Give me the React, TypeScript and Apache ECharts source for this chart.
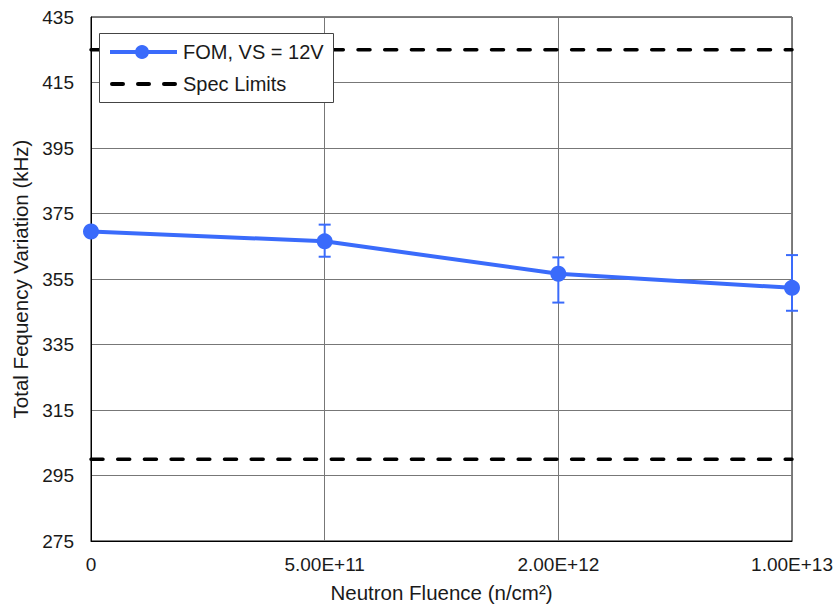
import React, { useEffect, useRef } from "react";
import * as echarts from "echarts";

const categories = ["0", "5.00E+11", "2.00E+12", "1.00E+13"];
const fomValues = [369.5, 366.5, 356.6, 352.3];
const errLow = [369.5, 361.8, 347.8, 345.3];
const errHigh = [369.5, 371.6, 361.6, 362.3];
const specUpper = [425, 425, 425, 425];
const specLower = [300, 300, 300, 300];
const legendNames = ["FOM, VS = 12V", "Spec Limits"];
const yMin = 275;
const yMax = 435;
const yInterval = 20;

const BLUE = "#3a6bfb";
const FONT = "Liberation Sans, Arial, sans-serif";
const TXT = "#1a1a1a";
const DASH = [12, 14.7];

export default function App() {
  const ref = useRef<HTMLDivElement>(null);
  useEffect(() => {
    if (!ref.current) return;
    const chart = echarts.init(ref.current, undefined, { renderer: "svg" });
    const errData = categories.map((_, i) => [i, errLow[i], errHigh[i]]);
    chart.setOption({
      animation: false,
      backgroundColor: "#ffffff",
      textStyle: { fontFamily: FONT },
      grid: {
        left: 91,
        right: 46,
        top: 17,
        bottom: 67,
        show: true,
        borderColor: "#000",
        borderWidth: 1,
        backgroundColor: "transparent",
      },
      graphic: [
        {
          type: "rect",
          z: 100,
          shape: { x: 99.5, y: 33.5, width: 234, height: 69 },
          style: { fill: "#ffffff", stroke: "#444", lineWidth: 1 },
        },
        {
          type: "line",
          z: 101,
          shape: { x1: 110, y1: 52, x2: 177, y2: 52 },
          style: { stroke: BLUE, lineWidth: 4 },
        },
        {
          type: "circle",
          z: 102,
          shape: { cx: 142, cy: 52, r: 7 },
          style: { fill: BLUE },
        },
        {
          type: "text",
          z: 101,
          x: 183,
          y: 52,
          style: {
            text: legendNames[0],
            font: "20px Liberation Sans, Arial, sans-serif",
            fill: TXT,
            verticalAlign: "middle",
            align: "left",
          },
        },
        {
          type: "line",
          z: 101,
          shape: { x1: 112, y1: 84, x2: 177, y2: 84 },
          style: { stroke: "#000", lineWidth: 4, lineDash: [11, 15], lineCap: "round" },
        },
        {
          type: "text",
          z: 101,
          x: 183,
          y: 84,
          style: {
            text: legendNames[1],
            font: "20px Liberation Sans, Arial, sans-serif",
            fill: TXT,
            verticalAlign: "middle",
            align: "left",
          },
        },
      ],
      xAxis: {
        type: "category",
        data: categories,
        boundaryGap: false,
        name: "Neutron Fluence (n/cm²)",
        nameLocation: "middle",
        nameGap: 41,
        nameTextStyle: { fontSize: 20.5, color: TXT, fontFamily: FONT },
        axisLine: { show: true, lineStyle: { color: "#000", width: 1 } },
        axisTick: { show: false },
        axisLabel: { fontSize: 19, color: TXT, margin: 14, fontFamily: FONT },
        splitLine: { show: true, lineStyle: { color: "#777", width: 1 } },
      },
      yAxis: {
        type: "value",
        min: yMin,
        max: yMax,
        interval: yInterval,
        name: "Total Fequency Variation (kHz)",
        nameLocation: "middle",
        nameGap: 56,
        nameTextStyle: { fontSize: 20.5, color: TXT, fontFamily: FONT },
        axisLine: { show: true, lineStyle: { color: "#000", width: 1 } },
        axisTick: { show: false },
        axisLabel: { fontSize: 19, color: TXT, margin: 17, fontFamily: FONT },
        splitLine: { show: true, lineStyle: { color: "#777", width: 1 } },
      },
      series: [
        {
          name: legendNames[1],
          type: "line",
          data: specUpper,
          symbol: "none",
          lineStyle: { color: "#000", width: 3.5, type: DASH, cap: "round" },
          itemStyle: { color: "#000" },
          z: 3,
        },
        {
          name: legendNames[1],
          type: "line",
          data: specLower,
          symbol: "none",
          lineStyle: { color: "#000", width: 3.5, type: DASH, cap: "round" },
          itemStyle: { color: "#000" },
          z: 3,
        },
        {
          name: "FOM error",
          type: "custom",
          data: errData,
          z: 4,
          renderItem: (params: any, api: any) => {
            const idx = api.value(0);
            const lo = api.coord([idx, api.value(1)]);
            const hi = api.coord([idx, api.value(2)]);
            const half = 6;
            const style = { stroke: BLUE, lineWidth: 2 };
            return {
              type: "group",
              children: [
                { type: "line", shape: { x1: lo[0], y1: lo[1], x2: hi[0], y2: hi[1] }, style },
                { type: "line", shape: { x1: hi[0] - half, y1: hi[1], x2: hi[0] + half, y2: hi[1] }, style },
                { type: "line", shape: { x1: lo[0] - half, y1: lo[1], x2: lo[0] + half, y2: lo[1] }, style },
              ],
            };
          },
        },
        {
          name: legendNames[0],
          type: "line",
          data: fomValues,
          symbol: "circle",
          symbolSize: 16,
          lineStyle: { color: BLUE, width: 4 },
          itemStyle: { color: BLUE },
          z: 5,
        },
      ],
    });
    return () => chart.dispose();
  }, []);
  return <div ref={ref} style={{ width: 838, height: 608, position: "absolute", left: 0, top: 0 }} />;
}
